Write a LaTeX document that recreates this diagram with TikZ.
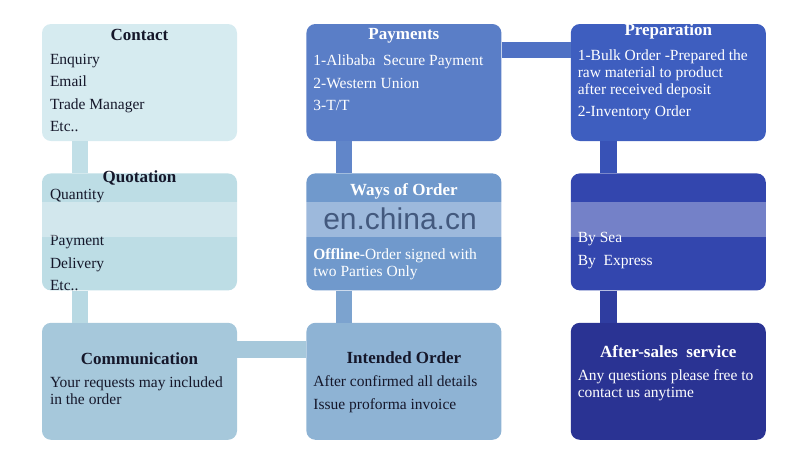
\documentclass[tikz,border=0pt]{standalone}
\usepackage{fontspec}
\setmainfont{Liberation Serif}
\newfontfamily\wmfont{Liberation Sans}
\usetikzlibrary{positioning}

\definecolor{contactc}{HTML}{D6EBF0}
\definecolor{quotec}{HTML}{BDDDE5}
\definecolor{commc}{HTML}{A6C8DB}
\definecolor{paymc}{HTML}{5A7EC7}
\definecolor{waysc}{HTML}{7099CC}
\definecolor{intendc}{HTML}{8EB3D4}
\definecolor{prepc}{HTML}{3E5EBF}
\definecolor{shipc}{HTML}{3346AE}
\definecolor{afterc}{HTML}{2A3393}
\definecolor{darktext}{HTML}{15172A}
\definecolor{wmtext}{HTML}{34496E}

\begin{document}
\begin{tikzpicture}[x=1pt,y=-1pt,
  box/.style={rounded corners=9pt, minimum width=195pt, minimum height=117pt, inner sep=0pt},
  title/.style={font=\fontsize{17}{20}\selectfont\bfseries, inner sep=0pt},
  body/.style={font=\fontsize{15.5}{17}\selectfont, align=left, inner sep=0pt, anchor=north west},
  bar/.style={line width=16.5pt}]
		\useasboundingbox (0,0) rectangle (800,459);

		%boxes
		\node[box, fill=contactc] (contact) at (139.5,82.5) {};
		\node[box, fill=quotec, below=32pt of contact] (quotation) {};
		\node[box, fill=commc, below=32pt of quotation] (communication) {};
		\node[box, fill=paymc, right=69pt of contact] (payments) {};
		\node[box, fill=waysc, below=32pt of payments] (ways) {};
		\node[box, fill=intendc, below=32pt of ways] (intended) {};
		\node[box, fill=prepc, right=69pt of payments] (preparation) {};
		\node[box, fill=shipc, below=32pt of preparation] (shipping) {};
		\node[box, fill=afterc, below=32pt of shipping] (aftersales) {};

		%connectors
		\draw[bar, color=quotec!85!contactc] ([xshift=38pt]contact.south west) -- ([xshift=38pt]quotation.north west);
		\draw[bar, color=quotec!80!commc] ([xshift=38pt]quotation.south west) -- ([xshift=38pt]communication.north west);
		\draw[bar, color=commc] ([yshift=-27pt]communication.north east) -- ([yshift=-27pt]intended.north west);
		\draw[bar, color=paymc!70!waysc] ([xshift=38pt]payments.south west) -- ([xshift=38pt]ways.north west);
		\draw[bar, color=waysc!60!intendc] ([xshift=38pt]ways.south west) -- ([xshift=38pt]intended.north west);
		\draw[bar, color=paymc!60!prepc] ([yshift=-26pt]payments.north east) -- ([yshift=-26pt]preparation.north west);
		\draw[bar, color=prepc!50!shipc] ([xshift=38pt]preparation.south west) -- ([xshift=38pt]shipping.north west);
		\draw[bar, color=shipc!50!afterc] ([xshift=38pt]shipping.south west) -- ([xshift=38pt]aftersales.north west);

		%titles
		\node[title, text=darktext] (contact-t) at ([yshift=-11pt]contact.north) {Contact};
		\node[title, text=darktext] (quotation-t) at ([yshift=-5pt]quotation.north) {Quotation};
		\node[title, text=darktext] (communication-t) at ([yshift=-36pt]communication.north) {Communication};
		\node[title, text=white] (payments-t) at ([yshift=-12pt]payments.north) {Payments};
		\node[title, text=white] (ways-t) at ([yshift=-18pt]ways.north) {Ways of Order};
		\node[title, text=darktext] (intended-t) at ([yshift=-35pt]intended.north) {Intended Order};
		\node[title, text=white] (preparation-t) at ([yshift=-8pt]preparation.north) {Preparation};
		\node[title, text=white] (aftersales-t) at ([yshift=-29pt]aftersales.north) {After-sales\ \ service};

		%texts
		\node[body, text=darktext] (contact-b) at ([xshift=8pt,yshift=-30pt]contact.north west)
			{Enquiry\\[5.5pt]Email\\[5.5pt]Trade Manager\\[5.5pt]Etc..};
		\node[body, text=darktext] (quotation-b1) at ([xshift=8pt,yshift=-16pt]quotation.north west) {Quantity};
		\node[body, text=darktext] (quotation-b2) at ([xshift=8pt,yshift=-62pt]quotation.north west)
			{Payment\\[5.5pt]Delivery\\[5.5pt]Etc..};
		\node[body, text=darktext] (communication-b) at ([xshift=8pt,yshift=-54pt]communication.north west)
			{Your requests may included\\in the order};
		\node[body, text=white] (payments-b) at ([xshift=7pt,yshift=-31pt]payments.north west)
			{1-Alibaba\ \ Secure Payment\\[5.5pt]2-Western Union\\[5.5pt]3-T/T};
		\node[body, text=white] (ways-b) at ([xshift=7pt,yshift=-75pt]ways.north west)
			{\textbf{Offline}-Order signed with\\two Parties Only};
		\node[body, text=darktext] (intended-b) at ([xshift=7pt,yshift=-53pt]intended.north west)
			{After confirmed all details\\[5.5pt]Issue proforma invoice};
		\node[body, text=white] (preparation-b) at ([xshift=7pt,yshift=-26pt]preparation.north west)
			{1-Bulk Order -Prepared the\\raw material to product\\after received deposit\\[5pt]2-Inventory Order};
		\node[body, text=white] (shipping-b) at ([xshift=7pt,yshift=-59pt]shipping.north west)
			{By Sea\\[5.5pt]By\ \ Express};
		\node[body, text=white] (aftersales-b) at ([xshift=7pt,yshift=-47pt]aftersales.north west)
			{Any questions please free to\\contact us anytime};

		%watermark
		\fill[white, opacity=0.32] (35,202) rectangle (775,237);
		\node[font=\wmfont\fontsize{30}{30}\selectfont, text=wmtext, text opacity=0.85, inner sep=0pt] (wm) at (400,219) {en.china.cn};
\end{tikzpicture}
\end{document}
